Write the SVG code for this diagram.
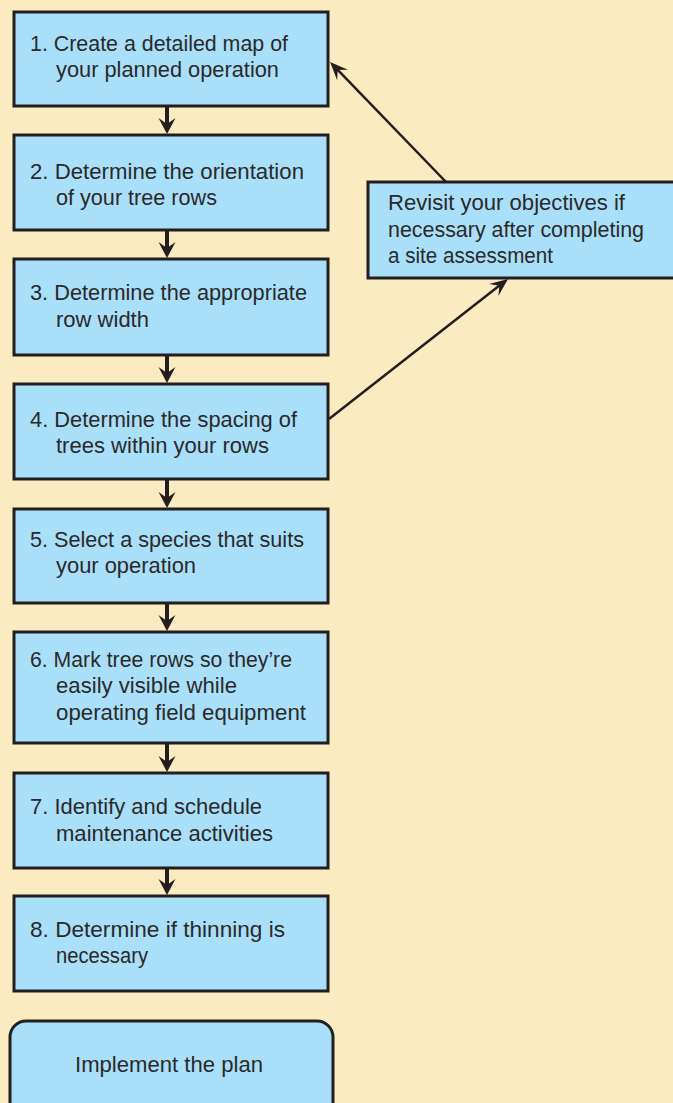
<svg xmlns="http://www.w3.org/2000/svg" width="673" height="1103" viewBox="0 0 673 1103">
  <style>
    .bg { fill: #FBEBC0; }
    .box { fill: #A9DFF9; stroke: #231F20; stroke-width: 3; }
    .lbl { font-family: "Liberation Sans", Arial, sans-serif; font-size: 22.5px; fill: #2B2A29; }
    .flow { stroke: #231F20; stroke-width: 4; fill: none; }
    .thin { stroke: #231F20; stroke-width: 2.5; fill: none; }
  </style>
  <defs>
    <marker id="headBig" markerUnits="userSpaceOnUse" viewBox="-17 -10 18 20" refX="-10" refY="0" markerWidth="18" markerHeight="20" orient="auto">
      <path d="M0,0 L-16,-8.5 L-10,0 L-16,8.5 Z" fill="#231F20"/>
    </marker>
    <marker id="headThin" markerUnits="userSpaceOnUse" viewBox="-19 -9 20 18" refX="-10" refY="0" markerWidth="20" markerHeight="18" orient="auto">
      <path d="M0,0 L-18,-7.5 L-11,0 L-18,7.5 Z" fill="#231F20"/>
    </marker>
  </defs>

  <rect class="bg" x="0" y="0" width="673" height="1103"/>

  <!-- connectors -->
  <g id="connectors">
    <line class="flow" x1="167" y1="107" x2="167" y2="124" marker-end="url(#headBig)"/>
    <line class="flow" x1="167" y1="231" x2="167" y2="248" marker-end="url(#headBig)"/>
    <line class="flow" x1="167" y1="356" x2="167" y2="373" marker-end="url(#headBig)"/>
    <line class="flow" x1="167" y1="480" x2="167" y2="498" marker-end="url(#headBig)"/>
    <line class="flow" x1="167" y1="604" x2="167" y2="621" marker-end="url(#headBig)"/>
    <line class="flow" x1="167" y1="744" x2="167" y2="762" marker-end="url(#headBig)"/>
    <line class="flow" x1="167" y1="869" x2="167" y2="885" marker-end="url(#headBig)"/>
    <!-- feedback loop through the objectives box -->
    <line class="thin" x1="329" y1="419" x2="500.1" y2="285.1" marker-end="url(#headThin)"/>
    <line class="thin" x1="446" y1="182" x2="337" y2="69.2" marker-end="url(#headThin)"/>
  </g>

  <g id="step1">
    <rect class="box" x="14" y="12" width="314" height="94"/>
    <text class="lbl" x="30" y="51" textLength="258" lengthAdjust="spacingAndGlyphs">1. Create a detailed map of</text>
    <text class="lbl" x="56" y="77" textLength="223" lengthAdjust="spacingAndGlyphs">your planned operation</text>
  </g>
  <g id="step2">
    <rect class="box" x="14" y="135" width="314" height="95"/>
    <text class="lbl" x="30" y="179" textLength="274" lengthAdjust="spacingAndGlyphs">2. Determine the orientation</text>
    <text class="lbl" x="56" y="205" textLength="161" lengthAdjust="spacingAndGlyphs">of your tree rows</text>
  </g>
  <g id="step3">
    <rect class="box" x="14" y="259" width="314" height="96"/>
    <text class="lbl" x="30" y="300" textLength="277" lengthAdjust="spacingAndGlyphs">3. Determine the appropriate</text>
    <text class="lbl" x="56" y="327" textLength="93" lengthAdjust="spacingAndGlyphs">row width</text>
  </g>
  <g id="step4">
    <rect class="box" x="14" y="384" width="314" height="95"/>
    <text class="lbl" x="30" y="427" textLength="267" lengthAdjust="spacingAndGlyphs">4. Determine the spacing of</text>
    <text class="lbl" x="56" y="453" textLength="213" lengthAdjust="spacingAndGlyphs">trees within your rows</text>
  </g>
  <g id="step5">
    <rect class="box" x="14" y="509" width="314" height="94"/>
    <text class="lbl" x="30" y="547" textLength="274" lengthAdjust="spacingAndGlyphs">5. Select a species that suits</text>
    <text class="lbl" x="56" y="573" textLength="140" lengthAdjust="spacingAndGlyphs">your operation</text>
  </g>
  <g id="step6">
    <rect class="box" x="14" y="632" width="314" height="111"/>
    <text class="lbl" x="30" y="667" textLength="262" lengthAdjust="spacingAndGlyphs">6. Mark tree rows so they’re</text>
    <text class="lbl" x="56" y="693" textLength="181" lengthAdjust="spacingAndGlyphs">easily visible while</text>
    <text class="lbl" x="56" y="720" textLength="250" lengthAdjust="spacingAndGlyphs">operating field equipment</text>
  </g>
  <g id="step7">
    <rect class="box" x="14" y="773" width="314" height="95"/>
    <text class="lbl" x="30" y="814" textLength="232" lengthAdjust="spacingAndGlyphs">7. Identify and schedule</text>
    <text class="lbl" x="56" y="841" textLength="217" lengthAdjust="spacingAndGlyphs">maintenance activities</text>
  </g>
  <g id="step8">
    <rect class="box" x="14" y="896" width="314" height="95"/>
    <text class="lbl" x="30" y="937" textLength="255" lengthAdjust="spacingAndGlyphs">8. Determine if thinning is</text>
    <text class="lbl" x="56" y="963" textLength="92" lengthAdjust="spacingAndGlyphs">necessary</text>
  </g>
  <g id="implement">
    <rect class="box" x="10" y="1021" width="323" height="100" rx="16" ry="16"/>
    <text class="lbl" x="75" y="1072" textLength="188" lengthAdjust="spacingAndGlyphs">Implement the plan</text>
  </g>
  <g id="revisit">
    <rect class="box" x="368" y="182" width="320" height="96"/>
    <text class="lbl" x="388" y="210" textLength="237" lengthAdjust="spacingAndGlyphs">Revisit your objectives if</text>
    <text class="lbl" x="388" y="237" textLength="256" lengthAdjust="spacingAndGlyphs">necessary after completing</text>
    <text class="lbl" x="388" y="263" textLength="165" lengthAdjust="spacingAndGlyphs">a site assessment</text>
  </g>
</svg>
